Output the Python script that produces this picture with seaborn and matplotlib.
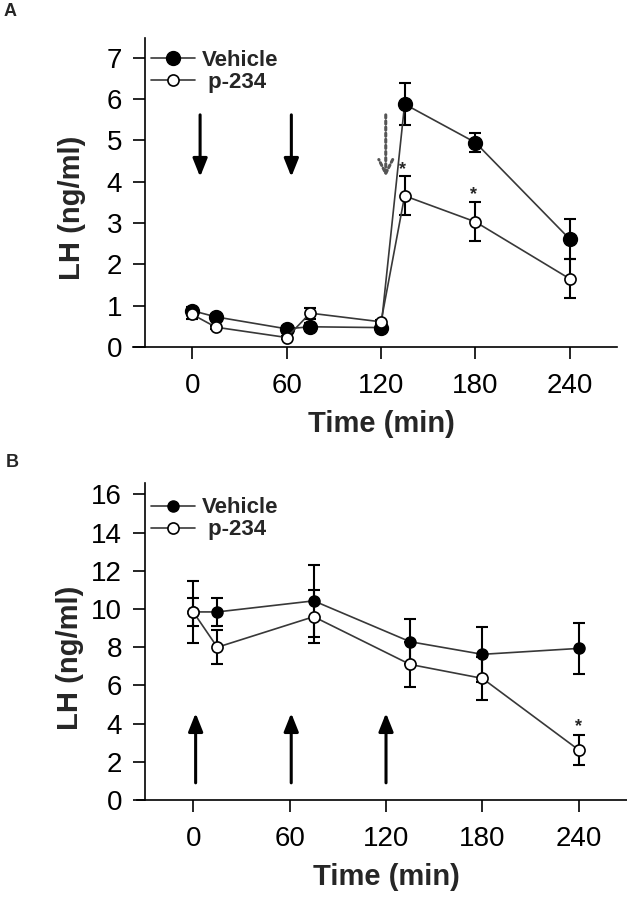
import numpy as np
import pandas as pd
import matplotlib
matplotlib.use("Agg")
import matplotlib.pyplot as plt
import seaborn as sns

sns.set_style("ticks")
plt.rcParams['font.family'] = ['Liberation Sans', 'DejaVu Sans']

# Panel A data
time_a = [0, 15, 60, 75, 120, 135, 180, 240]
veh_a = [0.88, 0.73, 0.44, 0.49, 0.47, 5.88, 4.95, 2.61]
veh_a_err = [0.10, 0.08, 0.06, 0.10, 0.05, 0.50, 0.22, 0.49]
p234_a = [0.79, 0.48, 0.23, 0.82, 0.61, 3.66, 3.03, 1.65]
p234_a_err = [0.10, 0.04, 0.04, 0.13, 0.04, 0.47, 0.47, 0.47]

# Panel B data
time_b = [0, 15, 75, 135, 180, 240]
veh_b = [9.85, 9.85, 10.43, 8.29, 7.63, 7.94]
veh_b_err = [0.75, 0.75, 1.88, 1.17, 1.44, 1.32]
p234_b = [9.85, 8.0, 9.6, 7.1, 6.37, 2.62]
p234_b_err = [1.62, 0.88, 1.4, 1.2, 1.13, 0.78]

xticks = [0, 60, 120, 180, 240]
yticks_a = [0, 1, 2, 3, 4, 5, 6, 7]
yticks_b = [0, 2, 4, 6, 8, 10, 12, 14, 16]

fig = plt.figure(figsize=(6.27, 8.99), dpi=100)
axA = fig.add_axes([0.2313, 0.6140, 0.7528, 0.3437])
axB = fig.add_axes([0.2313, 0.1101, 0.7687, 0.3526])


def draw_panel(ax, t, veh, veh_err, p, p_err, ms_fill, ms_open):
    ax.errorbar(t, veh, yerr=veh_err, fmt='none', ecolor='black',
                elinewidth=1.5, capsize=4.3, capthick=1.5, zorder=2)
    ax.errorbar(t, p, yerr=p_err, fmt='none', ecolor='black',
                elinewidth=1.5, capsize=4.3, capthick=1.5, zorder=2)
    sns.lineplot(x=t, y=veh, ax=ax, color='#383838', linewidth=1.2,
                 marker='o', markersize=ms_fill, markerfacecolor='black',
                 markeredgecolor='black', markeredgewidth=1.0,
                 label='Vehicle', zorder=3)
    sns.lineplot(x=t, y=p, ax=ax, color='#383838', linewidth=1.2,
                 marker='o', markersize=ms_open, markerfacecolor='white',
                 markeredgecolor='black', markeredgewidth=1.2,
                 label=' p-234', zorder=4)


draw_panel(axA, time_a, veh_a, veh_a_err, p234_a, p234_a_err, 10, 8)
draw_panel(axB, time_b, veh_b, veh_b_err, p234_b, p234_b_err, 8, 8)

for ax, yt, ylim, left_ext, leg_y in [(axA, yticks_a, 7.48, -37.6, 0.962),
                                      (axB, yticks_b, 16.6, -35.3, 0.955)]:
    ax.set_xlim(-30, 270)
    ax.set_ylim(0, ylim)
    ax.set_xticks(xticks)
    ax.set_yticks(yt)
    ax.spines['top'].set_visible(False)
    ax.spines['right'].set_visible(False)
    for s in ['left', 'bottom']:
        ax.spines[s].set_linewidth(1.2)
        ax.spines[s].set_color('black')
    ax.spines['bottom'].set_bounds(left_ext, 270)
    ax.tick_params(axis='both', direction='out', length=8.5, width=1.2,
                   labelsize=20, colors='black')
    ax.tick_params(axis='x', pad=10)
    ax.tick_params(axis='y', pad=8)
    ax.set_xlabel('Time (min)', fontsize=21, fontweight='bold', labelpad=8)
    ax.set_ylabel('LH (ng/ml)', fontsize=21, fontweight='bold')
    ax.legend(loc='upper left', bbox_to_anchor=(0.012, leg_y), frameon=False,
              prop={'weight': 'bold', 'size': 16}, handlelength=2.0,
              handletextpad=0.3, labelspacing=0.05, borderpad=0,
              borderaxespad=0)

axA.yaxis.set_label_coords(-0.125, 0.45)
axB.yaxis.set_label_coords(-0.127, 0.45)

solid = '-|>,head_length=0.55,head_width=0.22'

# arrows in panel A (injections)
for t in [5, 63]:
    axA.annotate('', xy=(t, 4.12), xytext=(t, 5.62),
                 arrowprops=dict(arrowstyle=solid, color='black', lw=2.2,
                                 mutation_scale=20, shrinkA=0, shrinkB=0))
axA.annotate('', xy=(123, 4.12), xytext=(123, 5.62),
             arrowprops=dict(arrowstyle='->,head_length=0.5,head_width=0.25',
                             color='#555555', lw=2.2, linestyle=(0, (1, 1)),
                             mutation_scale=20, shrinkA=0, shrinkB=0))

# arrows in panel B
for t in [1.5, 61, 120]:
    axB.annotate('', xy=(t, 4.55), xytext=(t, 0.9),
                 arrowprops=dict(arrowstyle=solid, color='black', lw=2.2,
                                 mutation_scale=20, shrinkA=0, shrinkB=0))

# significance stars
axA.text(133.5, 4.29, '*', ha='center', va='center', fontsize=13, fontweight='bold')
axA.text(178.6, 3.70, '*', ha='center', va='center', fontsize=13, fontweight='bold')
axB.text(240, 3.85, '*', ha='center', va='center', fontsize=13, fontweight='bold')

fig.text(0.016, 0.987, 'A', fontsize=13, fontweight='bold', va='center', ha='center')
fig.text(0.019, 0.485, 'B', fontsize=13, fontweight='bold', va='center', ha='center')

fig.savefig('out.png', dpi=100)
